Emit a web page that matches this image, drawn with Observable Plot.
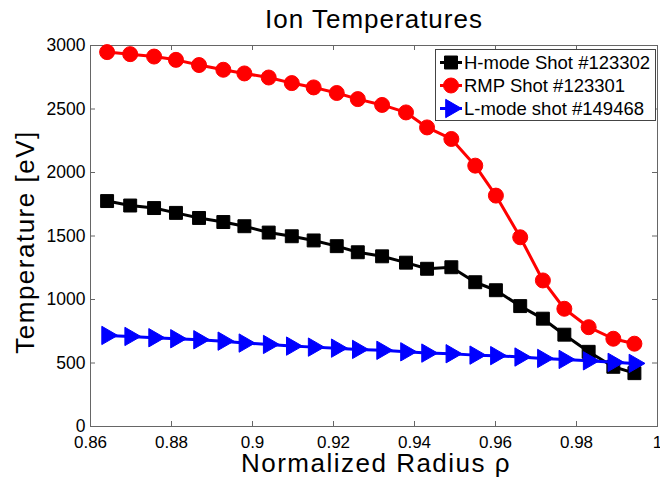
<!DOCTYPE html>
<html><head><meta charset="utf-8">
<script src="https://cdn.jsdelivr.net/npm/d3@7"></script>
<script src="https://cdn.jsdelivr.net/npm/@observablehq/plot@0.6"></script>
<style>body{margin:0;background:#fff}#chart svg{display:block}</style>
</head><body><div id="chart"></div>
<script>
const rho = [0.8641, 0.8698, 0.8757, 0.8811, 0.8868, 0.8928, 0.8980, 0.9040, 0.9097, 0.9151, 0.9208, 0.9260,
             0.9320, 0.9379, 0.9431, 0.9491, 0.9550, 0.9601, 0.9661, 0.9717, 0.9770, 0.9830, 0.9891, 0.9943];
const hmode = [1775, 1740, 1720, 1682, 1642, 1610, 1577, 1527, 1498, 1465, 1420, 1372,
               1340, 1290, 1242, 1254, 1136, 1073, 948, 849, 723, 588, 470, 420];
const rmp = [2948, 2932, 2913, 2887, 2846, 2809, 2780, 2748, 2704, 2670, 2626, 2578,
             2532, 2473, 2355, 2264, 2054, 1818, 1490, 1150, 927, 782, 691, 652];
const lmode = [717, 709, 699, 691, 683, 672, 657, 646, 633, 625, 617, 607,
               600, 588, 578, 573, 562, 558, 547, 536, 528, 517, 505, 497];
const seriesNames = ["H-mode Shot #123302", "RMP Shot #123301", "L-mode shot #149468"];
const seriesColors = ["#000000", "#ff0000", "#0000ff"];
const seriesSymbols = ["square", "circle", "triangle"];
const seriesValues = [hmode, rmp, lmode];
const xTicks = [0.86, 0.88, 0.9, 0.92, 0.94, 0.96, 0.98, 1];
const yTicks = [0, 500, 1000, 1500, 2000, 2500, 3000];
const titleText = "Ion Temperatures";
const xLabel = "Normalized Radius ρ";
const yLabel = "Temperature [eV]";

const FONT = "'Liberation Sans', Arial, Helvetica, sans-serif";
const W = 660, H = 484, ML = 90, MR = 3, MT = 45, MB = 58;
const plotW = W - ML - MR, plotH = H - MT - MB, TICK = 5;
const rows = seriesValues.flatMap((vals, s) => vals.map((v, i) => ({x: rho[i], y: v, s})));
const symR = [7.3, 7.5, 6.8];

const marks = [];
marks.push(Plot.frame({stroke: "#666"}));
// inward ticks on all four sides
marks.push(Plot.ruleX(xTicks, {insetTop: plotH - TICK, stroke: "#666"}));
marks.push(Plot.ruleX(xTicks, {insetBottom: plotH - TICK, stroke: "#666"}));
marks.push(Plot.ruleY(yTicks, {insetRight: plotW - TICK, stroke: "#666"}));
marks.push(Plot.ruleY(yTicks, {insetLeft: plotW - TICK, stroke: "#666"}));
marks.push(Plot.axisX(xTicks, {anchor: "bottom", tickSize: 0, tickPadding: 9, tickFormat: d => String(d), label: null, fontSize: 17}));
marks.push(Plot.axisY(yTicks, {anchor: "left", tickSize: 0, tickPadding: 5, tickFormat: d => String(d), label: null, fontSize: 17.5}));
seriesValues.forEach((vals, s) => {
  const data = rows.filter(d => d.s === s);
  marks.push(Plot.line(data, {x: "x", y: "y", stroke: seriesColors[s], strokeWidth: 3}));
  marks.push(Plot.dot(data, {x: "x", y: "y", symbol: seriesSymbols[s], r: symR[s], fill: seriesColors[s], stroke: seriesColors[s], strokeWidth: 1, rotate: s === 2 ? 90 : 0}));
});
marks.push(Plot.text([titleText], {frameAnchor: "top", textAnchor: "middle", lineAnchor: "bottom", dy: -18, fontSize: 26, fill: "#000", className: "ttl"}));
marks.push(Plot.text([xLabel], {frameAnchor: "bottom", textAnchor: "middle", lineAnchor: "bottom", dy: 45, dx: 2, fontSize: 26, fill: "#000", className: "xlab"}));
marks.push(Plot.text([yLabel], {frameAnchor: "left", textAnchor: "middle", lineAnchor: "bottom", rotate: -90, dx: -57, dy: 6, fontSize: 26, fill: "#000", className: "ylab"}));

const chart = Plot.plot({
  width: W, height: H,
  marginLeft: ML, marginRight: MR, marginTop: MT, marginBottom: MB,
  style: {fontFamily: FONT, fontSize: "17px", background: "#fff", overflow: "visible", color: "#000"},
  x: {domain: [0.86, 1]},
  y: {domain: [0, 3000]},
  marks
});
document.getElementById("chart").append(chart);

const svg = d3.select(chart);
svg.selectAll(".ttl text").style("letter-spacing", "1px");
svg.selectAll(".xlab text, .ylab text").style("letter-spacing", "1.5px");

// legend
const lg = svg.append("g").attr("font-family", FONT).attr("text-anchor", "start");
lg.append("rect").attr("x", 435.5).attr("y", 49.5).attr("width", 220).attr("height", 71)
  .attr("fill", "#fff").attr("stroke", "#444");
const d3sym = {square: d3.symbolSquare, circle: d3.symbolCircle, triangle: d3.symbolTriangle};
seriesNames.forEach((name, i) => {
  const cy = 62.5 + i * 23;
  lg.append("line").attr("x1", 440).attr("x2", 462).attr("y1", cy).attr("y2", cy)
    .attr("stroke", seriesColors[i]).attr("stroke-width", 3);
  lg.append("path").attr("d", d3.symbol(d3sym[seriesSymbols[i]], symR[i] * symR[i] * Math.PI)())
    .attr("transform", `translate(451,${cy}) rotate(${i === 2 ? 90 : 0})`)
    .attr("fill", seriesColors[i]).attr("stroke", seriesColors[i]);
  lg.append("text").attr("x", 464).attr("y", cy + 6.7).attr("font-size", 18.5)
    .attr("text-anchor", "start").attr("fill", "#000").text(name);
});
</script>
</body></html>
